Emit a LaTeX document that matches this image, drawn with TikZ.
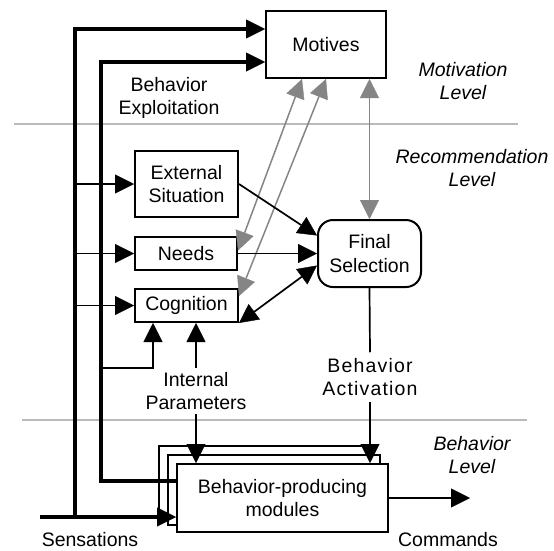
\documentclass[tikz,border=0pt]{standalone}
\usepackage{fontspec}
\setmainfont{Liberation Sans}
\usetikzlibrary{arrows.meta}

\begin{document}
\begin{tikzpicture}
	[x=1pt, y=-1pt, line width=1.7pt,
	font=\fontsize{19.5}{23.5}\selectfont,
	>={Triangle[length=19pt,width=19pt,line width=0.4pt]},
	box/.style={draw, line width=2pt, rectangle, inner sep=0pt, align=center},
	modbox/.style={box, fill=white, minimum width=211pt, minimum height=68pt},
	txt/.style={align=center, inner sep=3pt},
	lvltxt/.style={align=center, font=\fontsize{19.5}{23.5}\selectfont\itshape},
	bus/.style={line width=3.2pt},
	graylink/.style={draw=black!48, line width=1.5pt},
	sepline/.style={draw=black!27, line width=1.5pt}]

	\useasboundingbox (0,0) rectangle (554,550);

	\draw[sepline] (14,124) -- (518,124);
	\draw[sepline] (22,420) -- (527,420);

	\node[box, minimum width=120pt, minimum height=67pt] (motives) at (326,44.5) {Motives};
	\node[box, minimum width=103pt, minimum height=66pt] (extsit) at (186.5,184) {External\\Situation};
	\node[box, minimum width=102pt, minimum height=33pt] (needs) at (186,253.5) {Needs};
	\node[box, minimum width=103pt, minimum height=33pt] (cognition) at (186.5,305.5) {Cognition};
	\node[box, rounded corners=15pt, minimum width=103pt, minimum height=67pt] (finalsel) at (369.5,253.5) {Final\\Selection};
	\node[modbox, minimum width=213pt, minimum height=72pt] (modback) at (265.5,482) {};
	\node[modbox, minimum width=212pt, minimum height=70pt] (modmid) at (274,490) {};
	\node[modbox] (modules) at (282.5,498) {Behavior-producing\\modules};

	\node[txt] (exploit) at (169,98) {Behavior\\Exploitation};
	\node[lvltxt] (motlevel) at (463,81) {Motivation\\Level};
	\node[lvltxt] (reclevel) at (472,168) {Recommendation\\Level};
	\node[lvltxt] (behlevel) at (472,455) {Behavior\\Level};
	\node[txt] (intparam) at (196,391) {Internal\\Parameters};
	\node[txt, inner sep=5pt, font=\fontsize{19.5}{23.5}\selectfont\addfontfeature{LetterSpace=6}] (activation) at (370,377) {Behavior\\Activation};
	\node (sensations) at (90,540) {Sensations};
	\node (commands) at (448,540) {Commands};

	\coordinate (sens) at (40,517);
	\coordinate (busA) at (75,517);
	\coordinate (busAtop) at (75,29);
	\coordinate (busB) at (101,62);
	\coordinate (busBlow) at (101,481);
	\coordinate (cogA) at (153,368);
	\coordinate (cmd) at (470,498);

	\draw[bus, ->] (busA) |- (motives.west |- busAtop);
	\draw[bus, ->] (sens) -- (modules.west |- sens);
	\draw[bus, line width=4.2pt, ->] (modules.west |- busBlow) -| (busB) -- (motives.west |- busB);
	\draw[->] (busA |- extsit.west) -- (extsit.west);
	\draw[->] (busA |- needs.west) -- (needs.west);
	\draw[->] (busA |- cognition.west) -- (cognition.west);
	\draw[->] (busB |- cogA) -| (cognition.south -| cogA);
	\draw[->] (intparam.north) -- (intparam.north |- cognition.south);
	\draw[->] (intparam.south) -- (intparam.south |- modules.north);

	\draw[graylink, <->] ([xshift=37pt]motives.south west) -- ([yshift=3pt]needs.east);
	\draw[graylink, <->] ([xshift=61pt]motives.south west) -- ([yshift=-8pt]cognition.north east);
	\draw[graylink, <->] (motives.south -| finalsel.north) -- (finalsel.north);

	\draw[->] (extsit.east) -- ([yshift=18pt]finalsel.west);
	\draw[->] (needs.east) -- (finalsel.west);
	\draw[<->] (cognition.south east) -- ([yshift=-12pt]finalsel.west);
	\draw (finalsel.south) -- (activation.north);
	\draw[->] (activation.south) -- (activation.south |- modules.north);
	\draw[->] (modules.east) -- (cmd);
\end{tikzpicture}
\end{document}
